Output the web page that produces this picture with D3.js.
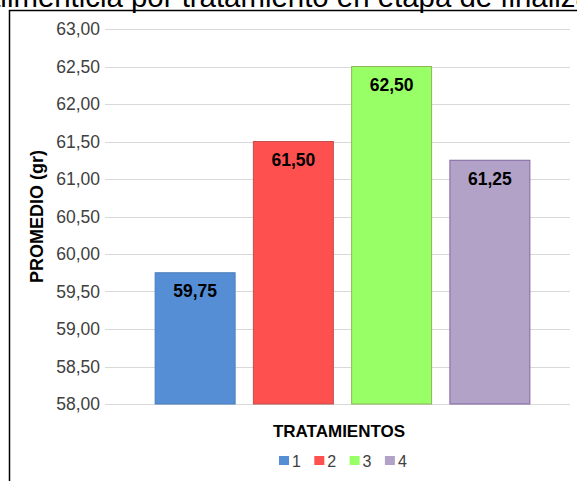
<!DOCTYPE html>
<html lang="es">
  <head>
    <meta charset="UTF-8" />
    <title>Promedio por tratamiento</title>
    <style>
      body {
        margin: 0;
        background: #fff;
      }
      svg {
        display: block;
        font-family: 'Liberation Sans', Arial, sans-serif;
      }
    </style>
  </head>
  <body>
    <script src="https://cdn.jsdelivr.net/npm/d3@7/dist/d3.min.js"></script>
    <svg width="577" height="481"></svg>
    <script>
      const tratamientos = ['1', '2', '3', '4'];
      const promedios = [59.75, 61.5, 62.5, 61.25];
      const yTicks = [58, 58.5, 59, 59.5, 60, 60.5, 61, 61.5, 62, 62.5, 63];
      const fillColors = ['#558ed5', '#ff5050', '#99ff66', '#b3a2c7'];
      const strokeColors = ['#4a7ebb', '#c0504d', '#8eb457', '#8064a2'];

      const fmt = (v) => v.toFixed(2).replace('.', ',');

      const svg = d3.select('svg');
      const plot = { left: 105, right: 570, top: 29, bottom: 404 };

      // título (recortado arriba en la imagen original)
      svg
        .append('text')
        .attr('x', -16)
        .attr('y', 7)
        .attr('font-size', 29.4)
        .attr('fill', '#000')
        .text('alimenticia por tratamiento en etapa de finalización');

      // marco
      svg
        .append('path')
        .attr('d', 'M9.5,481 V10.5 H577')
        .attr('fill', 'none')
        .attr('stroke', '#000')
        .attr('stroke-width', 1.5);

      const y = d3.scaleLinear().domain([58, 63]).range([plot.bottom, plot.top]);
      const x = d3
        .scaleBand()
        .domain(tratamientos)
        .range([146, 539])
        .paddingInner(0.186)
        .paddingOuter(0.093);

      // rejilla
      svg
        .append('g')
        .selectAll('line')
        .data(yTicks)
        .enter()
        .append('line')
        .attr('x1', plot.left)
        .attr('x2', plot.right)
        .attr('y1', (d) => Math.round(y(d)) + 0.5)
        .attr('y2', (d) => Math.round(y(d)) + 0.5)
        .attr('stroke', '#d9d9d9');

      const yAxis = svg
        .append('g')
        .attr('transform', 'translate(' + (plot.left - 5) + ',0)')
        .call(d3.axisLeft(y).tickValues(yTicks).tickFormat(fmt).tickSize(0).tickPadding(0));
      yAxis.select('.domain').remove();
      yAxis
        .selectAll('text')
        .attr('font-size', 17.5)
        .attr('font-family', "'Liberation Sans', Arial, sans-serif")
        .attr('fill', '#404040');

      const bar = svg
        .append('g')
        .selectAll('g')
        .data(promedios)
        .enter()
        .append('g');

      bar
        .append('rect')
        .attr('x', (d, i) => x(tratamientos[i]))
        .attr('y', (d) => y(d))
        .attr('width', x.bandwidth())
        .attr('height', (d) => y(58) - y(d))
        .attr('fill', (d, i) => fillColors[i])
        .attr('stroke', (d, i) => strokeColors[i])
        .attr('stroke-width', 1);

      bar
        .append('text')
        .attr('x', (d, i) => x(tratamientos[i]) + x.bandwidth() / 2)
        .attr('y', (d) => y(d) + 24.5)
        .attr('text-anchor', 'middle')
        .attr('font-size', 17.5)
        .attr('font-weight', 'bold')
        .attr('fill', '#000')
        .text(fmt);

      // títulos de ejes
      svg
        .append('text')
        .attr('transform', 'translate(43,' + (plot.top + plot.bottom) / 2 + ') rotate(-90)')
        .attr('text-anchor', 'middle')
        .attr('font-size', 18)
        .attr('font-weight', 'bold')
        .attr('fill', '#000')
        .text('PROMEDIO (gr)');

      svg
        .append('text')
        .attr('x', 339)
        .attr('y', 437)
        .attr('text-anchor', 'middle')
        .attr('font-size', 17)
        .attr('font-weight', 'bold')
        .attr('fill', '#000')
        .text('TRATAMIENTOS');

      // leyenda
      const legend = svg
        .append('g')
        .selectAll('g')
        .data(tratamientos)
        .enter()
        .append('g')
        .attr('transform', (d, i) => 'translate(' + (279 + i * 35.3) + ',456)');

      legend
        .append('rect')
        .attr('width', 10)
        .attr('height', 9)
        .attr('fill', (d, i) => fillColors[i]);

      legend
        .append('text')
        .attr('x', 13)
        .attr('y', 11)
        .attr('font-size', 16)
        .attr('fill', '#404040')
        .text((d) => d);
    </script>
  </body>
</html>
